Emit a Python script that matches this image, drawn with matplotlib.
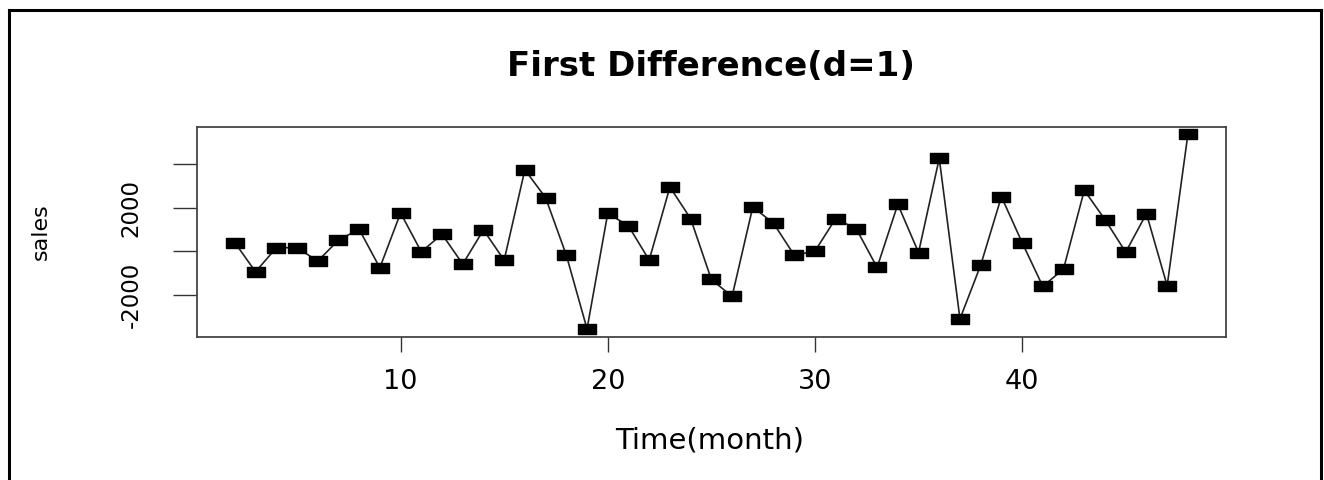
import matplotlib
matplotlib.use("Agg")
import matplotlib.pyplot as plt
from matplotlib.lines import Line2D

months = list(range(2, 49))
sales_diff = [395, -952, 152, 166, -460, 506, 1011, -768, 1761, -32,
              782, -598, 979, -414, 3752, 2464, -184, -3586, 1747, 1163,
              -414, 2956, 1499, -1306, -2087, 2037, 1287, -184, 0, 1499,
              1025, -754, 2161, -64, 4276, -3126, -644, 2510, 395, -1628,
              -814, 2805, 1453, -46, 1729, -1595, 5379]
x_ticks = [10, 20, 30, 40]
y_ticks = [-2000, 0, 2000, 4000]
y_tick_labels = ["-2000", "", "2000", ""]

plt.rcParams['font.family'] = ['DejaVu Sans']
fig = plt.figure(figsize=(13.24, 4.8), dpi=100)
ax = fig.add_axes([196.7/1324, 1-336.7/480, (1226-196.7)/1324, (336.7-126.7)/480])

ax.plot(months, sales_diff, color='#222222', lw=1.2, zorder=2)
rect = [(-1, -0.6), (1, -0.6), (1, 0.6), (-1, 0.6), (-1, -0.6)]
ax.plot(months, sales_diff, linestyle='none', marker=rect, markersize=12.5,
        color='black', zorder=3)

xr = max(months) - min(months)
ax.set_xlim(min(months) - 0.04*xr, max(months) + 0.04*xr)
yr = max(sales_diff) - min(sales_diff)
ax.set_ylim(min(sales_diff) - 0.04*yr, max(sales_diff) + 0.04*yr)

ax.set_xticks(x_ticks)
ax.set_xticklabels([str(t) for t in x_ticks], fontsize=19.5)
ax.set_yticks(y_ticks)
ax.set_yticklabels(y_tick_labels, fontsize=16.5, rotation=90, va='center')
ax.tick_params(axis='x', length=11, width=1, color='#333333', pad=12)
ax.tick_params(axis='y', length=17, width=1, color='#333333', pad=22)
for s in ax.spines.values():
    s.set_color('#444444')
    s.set_linewidth(1.3)

fig.text(711/1324, 1-67/480, "First Difference(d=1)", fontsize=24.5,
         fontweight='bold', ha='center', va='center')
fig.text(710/1324, 1-440/480, "Time(month)", fontsize=21,
         ha='center', va='center')
fig.text(41/1324, 1-232/480, "sales", fontsize=16, rotation=90,
         ha='center', va='center')

# outer frame
fig.add_artist(Line2D([8.5/1324, 8.5/1324], [0, 1-9.5/480], color='black', lw=2.2,
                      transform=fig.transFigure))
fig.add_artist(Line2D([1320.5/1324, 1320.5/1324], [0, 1-9.5/480], color='black', lw=2.2,
                      transform=fig.transFigure))
fig.add_artist(Line2D([8.5/1324, 1320.5/1324], [1-9.5/480, 1-9.5/480], color='black', lw=2.2,
                      transform=fig.transFigure))

fig.savefig("out.png", dpi=100)
